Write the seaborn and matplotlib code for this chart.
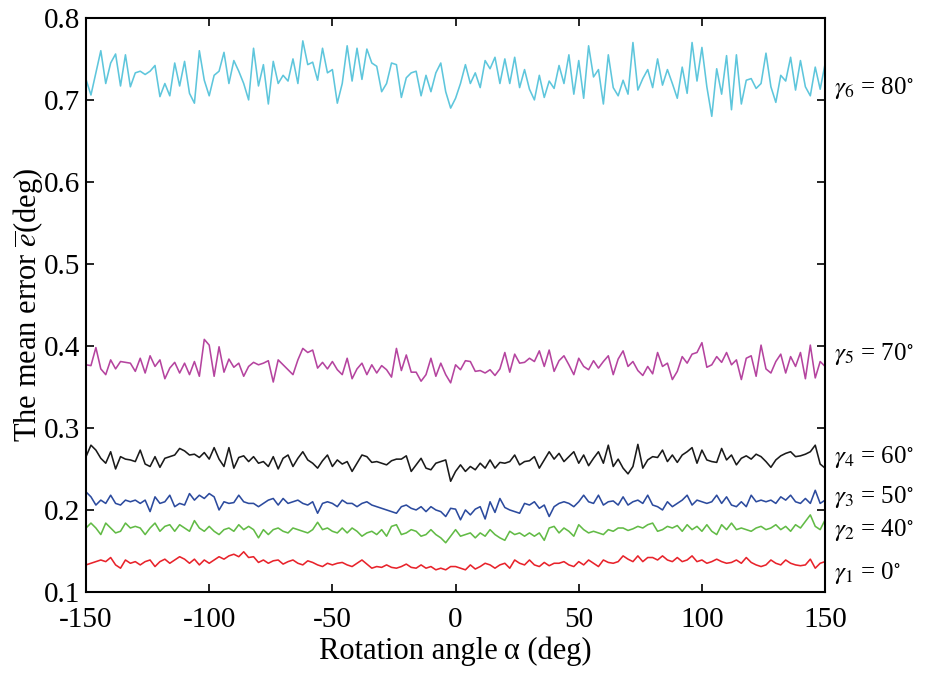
"""
Mean error vs rotation angle for six gamma settings
"""

import numpy as np
import pandas as pd
import matplotlib
matplotlib.use("Agg")
import matplotlib.pyplot as plt
import seaborn as sns

# Set style
sns.set_style("ticks")
plt.rcParams['font.family'] = ['Liberation Serif', 'DejaVu Serif']
plt.rcParams['mathtext.fontset'] = 'stix'
plt.rcParams['axes.unicode_minus'] = False
for key in ['text.color', 'axes.labelcolor', 'xtick.color', 'ytick.color', 'axes.edgecolor']:
    plt.rcParams[key] = 'black'

# ===== DATA (rotation angle -150..150 deg, step 2) =====
angles = np.arange(-150, 151, 2)

err_g6 = [0.725, 0.706, 0.733, 0.760, 0.720, 0.745, 0.756, 0.717, 0.755, 0.716,
          0.733, 0.735, 0.731, 0.735, 0.742, 0.704, 0.720, 0.705, 0.745, 0.717,
          0.747, 0.708, 0.696, 0.760, 0.724, 0.705, 0.730, 0.735, 0.758, 0.720,
          0.748, 0.735, 0.720, 0.700, 0.763, 0.717, 0.743, 0.695, 0.747, 0.720,
          0.730, 0.723, 0.750, 0.720, 0.772, 0.743, 0.746, 0.724, 0.763, 0.733,
          0.737, 0.696, 0.720, 0.766, 0.723, 0.763, 0.725, 0.762, 0.745, 0.741,
          0.710, 0.720, 0.745, 0.743, 0.703, 0.727, 0.733, 0.735, 0.705, 0.730,
          0.710, 0.733, 0.745, 0.710, 0.690,
          0.702, 0.720, 0.743, 0.720, 0.733, 0.715, 0.748, 0.738, 0.752, 0.720,
          0.750, 0.720, 0.752, 0.715, 0.737, 0.713, 0.700, 0.730, 0.703, 0.723,
          0.714, 0.742, 0.720, 0.755, 0.707, 0.748, 0.702, 0.766, 0.728, 0.737,
          0.695, 0.755, 0.715, 0.705, 0.724, 0.707, 0.770, 0.712, 0.726, 0.737,
          0.715, 0.750, 0.718, 0.737, 0.720, 0.702, 0.740, 0.708, 0.770, 0.723,
          0.764, 0.716, 0.680, 0.738, 0.707, 0.754, 0.688, 0.755, 0.695, 0.724,
          0.726, 0.714, 0.720, 0.757, 0.716, 0.697, 0.730, 0.723, 0.752, 0.712,
          0.748, 0.716, 0.705, 0.740, 0.713, 0.744]

err_g5 = [0.377, 0.376, 0.398, 0.372, 0.365, 0.383, 0.372, 0.381, 0.380, 0.379,
          0.369, 0.385, 0.367, 0.388, 0.375, 0.383, 0.360, 0.373, 0.380, 0.367,
          0.379, 0.365, 0.381, 0.363, 0.408, 0.401, 0.363, 0.399, 0.368, 0.384,
          0.374, 0.379, 0.363, 0.375, 0.380, 0.377, 0.379, 0.382, 0.356, 0.383,
          0.377, 0.371, 0.365, 0.383, 0.397, 0.392, 0.395, 0.373, 0.380, 0.372,
          0.381, 0.371, 0.365, 0.385, 0.360, 0.372, 0.379, 0.365, 0.377, 0.367,
          0.376, 0.371, 0.362, 0.397, 0.370, 0.389, 0.368, 0.368, 0.357, 0.365,
          0.385, 0.363, 0.379, 0.365, 0.355,
          0.377, 0.371, 0.382, 0.381, 0.369, 0.370, 0.367, 0.371, 0.364, 0.372,
          0.392, 0.368, 0.390, 0.379, 0.380, 0.385, 0.381, 0.394, 0.375, 0.395,
          0.369, 0.382, 0.388, 0.377, 0.365, 0.385, 0.375, 0.371, 0.382, 0.373,
          0.381, 0.388, 0.365, 0.384, 0.394, 0.375, 0.381, 0.370, 0.364, 0.375,
          0.366, 0.392, 0.375, 0.379, 0.359, 0.369, 0.387, 0.379, 0.390, 0.392,
          0.404, 0.374, 0.377, 0.387, 0.380, 0.392, 0.377, 0.383, 0.359, 0.385,
          0.388, 0.363, 0.401, 0.372, 0.367, 0.381, 0.390, 0.367, 0.387, 0.375,
          0.392, 0.360, 0.401, 0.361, 0.381, 0.375]

err_g4 = [0.265, 0.279, 0.273, 0.263, 0.257, 0.271, 0.250, 0.265, 0.262, 0.261,
          0.259, 0.273, 0.256, 0.253, 0.265, 0.252, 0.263, 0.265, 0.267, 0.275,
          0.272, 0.267, 0.268, 0.264, 0.270, 0.262, 0.276, 0.262, 0.253, 0.276,
          0.251, 0.264, 0.266, 0.259, 0.265, 0.257, 0.259, 0.253, 0.265, 0.250,
          0.263, 0.267, 0.253, 0.263, 0.271, 0.261, 0.257, 0.251, 0.260, 0.267,
          0.253, 0.261, 0.256, 0.259, 0.247, 0.257, 0.267, 0.265, 0.258, 0.259,
          0.257, 0.255, 0.260, 0.262, 0.262, 0.266, 0.247, 0.255, 0.263, 0.251,
          0.249, 0.257, 0.259, 0.261, 0.235,
          0.247, 0.255, 0.247, 0.253, 0.249, 0.257, 0.251, 0.261, 0.251, 0.258,
          0.257, 0.259, 0.267, 0.255, 0.259, 0.260, 0.265, 0.251, 0.261, 0.271,
          0.262, 0.269, 0.259, 0.265, 0.271, 0.257, 0.267, 0.254, 0.263, 0.271,
          0.257, 0.279, 0.253, 0.262, 0.251, 0.244, 0.253, 0.280, 0.251, 0.261,
          0.265, 0.264, 0.273, 0.259, 0.267, 0.258, 0.267, 0.271, 0.276, 0.257,
          0.273, 0.261, 0.259, 0.258, 0.275, 0.261, 0.267, 0.255, 0.263, 0.266,
          0.262, 0.268, 0.265, 0.259, 0.252, 0.261, 0.266, 0.269, 0.271, 0.265,
          0.266, 0.268, 0.271, 0.279, 0.256, 0.251]

err_g3 = [0.222, 0.216, 0.206, 0.212, 0.208, 0.218, 0.208, 0.206, 0.212, 0.210,
          0.212, 0.208, 0.212, 0.198, 0.216, 0.208, 0.210, 0.218, 0.204, 0.208,
          0.206, 0.220, 0.212, 0.218, 0.214, 0.220, 0.216, 0.200, 0.210, 0.208,
          0.209, 0.218, 0.210, 0.208, 0.208, 0.204, 0.208, 0.212, 0.214, 0.206,
          0.214, 0.208, 0.210, 0.212, 0.208, 0.206, 0.210, 0.196, 0.208, 0.210,
          0.208, 0.204, 0.212, 0.208, 0.208, 0.204, 0.208, 0.210, 0.206, 0.204,
          0.202, 0.200, 0.198, 0.196, 0.204, 0.206, 0.202, 0.200, 0.204, 0.198,
          0.204, 0.200, 0.198, 0.192, 0.202,
          0.201, 0.188, 0.200, 0.194, 0.201, 0.204, 0.189, 0.210, 0.197, 0.214,
          0.203, 0.200, 0.198, 0.196, 0.208, 0.206, 0.210, 0.202, 0.206, 0.192,
          0.204, 0.208, 0.210, 0.208, 0.204, 0.210, 0.218, 0.210, 0.208, 0.218,
          0.206, 0.210, 0.211, 0.206, 0.216, 0.206, 0.210, 0.212, 0.208, 0.218,
          0.206, 0.204, 0.200, 0.210, 0.204, 0.208, 0.212, 0.218, 0.206, 0.212,
          0.210, 0.208, 0.210, 0.218, 0.208, 0.216, 0.206, 0.204, 0.210, 0.204,
          0.218, 0.210, 0.212, 0.210, 0.212, 0.208, 0.216, 0.212, 0.218, 0.210,
          0.208, 0.214, 0.208, 0.224, 0.208, 0.212]

err_g2 = [0.178, 0.184, 0.178, 0.170, 0.184, 0.178, 0.172, 0.174, 0.184, 0.178,
          0.180, 0.178, 0.170, 0.178, 0.184, 0.174, 0.180, 0.182, 0.174, 0.182,
          0.178, 0.174, 0.187, 0.178, 0.174, 0.180, 0.174, 0.170, 0.176, 0.178,
          0.174, 0.182, 0.176, 0.180, 0.176, 0.166, 0.176, 0.170, 0.176, 0.178,
          0.174, 0.172, 0.178, 0.176, 0.174, 0.172, 0.176, 0.185, 0.176, 0.178,
          0.174, 0.172, 0.178, 0.172, 0.178, 0.174, 0.168, 0.172, 0.174, 0.170,
          0.176, 0.168, 0.180, 0.182, 0.170, 0.172, 0.176, 0.174, 0.168, 0.170,
          0.176, 0.170, 0.166, 0.160, 0.168,
          0.176, 0.168, 0.170, 0.172, 0.166, 0.172, 0.168, 0.176, 0.170, 0.166,
          0.163, 0.174, 0.170, 0.172, 0.168, 0.172, 0.168, 0.172, 0.163, 0.178,
          0.180, 0.172, 0.178, 0.174, 0.168, 0.182, 0.176, 0.172, 0.174, 0.172,
          0.170, 0.176, 0.174, 0.178, 0.178, 0.175, 0.177, 0.180, 0.178, 0.182,
          0.184, 0.174, 0.176, 0.180, 0.178, 0.181, 0.174, 0.182, 0.176, 0.180,
          0.174, 0.182, 0.174, 0.170, 0.182, 0.176, 0.184, 0.176, 0.178, 0.176,
          0.174, 0.178, 0.180, 0.176, 0.178, 0.182, 0.176, 0.180, 0.174, 0.182,
          0.178, 0.186, 0.194, 0.180, 0.176, 0.188]

err_g1 = [0.133, 0.135, 0.137, 0.139, 0.137, 0.142, 0.133, 0.129, 0.139, 0.135,
          0.137, 0.133, 0.137, 0.139, 0.131, 0.137, 0.140, 0.135, 0.139, 0.143,
          0.140, 0.135, 0.140, 0.133, 0.139, 0.135, 0.139, 0.143, 0.140, 0.144,
          0.146, 0.143, 0.149, 0.142, 0.143, 0.136, 0.139, 0.135, 0.138, 0.139,
          0.134, 0.137, 0.139, 0.135, 0.133, 0.138, 0.136, 0.133, 0.131, 0.135,
          0.133, 0.135, 0.136, 0.133, 0.131, 0.135, 0.139, 0.134, 0.129, 0.131,
          0.130, 0.133, 0.130, 0.129, 0.131, 0.134, 0.130, 0.129, 0.133, 0.129,
          0.131, 0.127, 0.129, 0.127, 0.131,
          0.131, 0.129, 0.127, 0.133, 0.128, 0.131, 0.135, 0.133, 0.129, 0.133,
          0.135, 0.129, 0.139, 0.135, 0.133, 0.139, 0.133, 0.131, 0.136, 0.132,
          0.135, 0.135, 0.137, 0.133, 0.131, 0.137, 0.133, 0.139, 0.135, 0.131,
          0.139, 0.136, 0.135, 0.137, 0.144, 0.140, 0.137, 0.144, 0.137, 0.142,
          0.142, 0.139, 0.144, 0.139, 0.137, 0.142, 0.137, 0.139, 0.144, 0.137,
          0.139, 0.135, 0.137, 0.140, 0.137, 0.135, 0.136, 0.139, 0.135, 0.142,
          0.136, 0.133, 0.131, 0.133, 0.139, 0.135, 0.133, 0.139, 0.135, 0.133,
          0.132, 0.133, 0.140, 0.129, 0.135, 0.137]

series_names = ['g1', 'g2', 'g3', 'g4', 'g5', 'g6']
series_vals = [err_g1, err_g2, err_g3, err_g4, err_g5, err_g6]
series_labels = [r'$\gamma_1$ = 0$^{\circ}$', r'$\gamma_2$ = 40$^{\circ}$',
                 r'$\gamma_3$ = 50$^{\circ}$', r'$\gamma_4$ = 60$^{\circ}$',
                 r'$\gamma_5$ = 70$^{\circ}$', r'$\gamma_6$ = 80$^{\circ}$']
label_y = [0.123, 0.176, 0.216, 0.264, 0.390, 0.715]
colors = {'g1': '#e8232b', 'g2': '#62bb46', 'g3': '#2c4b9e',
          'g4': '#1a1a1a', 'g5': '#b5449f', 'g6': '#5ec6dc'}

frames = []
for name, vals in zip(series_names, series_vals):
    x = np.linspace(-150, 150, len(vals))
    frames.append(pd.DataFrame({'angle': x, 'error': vals, 'gamma': name}))
df = pd.concat(frames, ignore_index=True)

fig = plt.figure(figsize=(9.25, 6.73), dpi=100)
ax = fig.add_axes([0.093, 0.1204, 0.799, 0.853])

sns.lineplot(data=df, x='angle', y='error', hue='gamma', palette=colors,
             estimator=None, legend=False, linewidth=1.15, ax=ax)

ax.set_xlim(-150, 150)
ax.set_ylim(0.1, 0.8)
ax.set_xticks([-150, -100, -50, 0, 50, 100, 150])
ax.set_yticks([0.1, 0.2, 0.3, 0.4, 0.5, 0.6, 0.7, 0.8])
ax.tick_params(direction='in', top=True, right=True, length=6, width=1.2,
               labelsize=21)
ax.tick_params(axis='x', pad=11)
ax.tick_params(axis='y', pad=4)
for sp in ax.spines.values():
    sp.set_linewidth(1.5)
    sp.set_color('black')

ax.set_xlabel('Rotation angle\u2009α (deg)', fontsize=22)
ax.set_ylabel(r'The mean error $\overline{e}$(deg)', fontsize=22)
ax.xaxis.set_label_coords(0.5, -0.078)
ax.yaxis.set_label_coords(-0.056, 0.5)

# curve labels outside the right axis
for lab, yv in zip(series_labels, label_y):
    ax.text(1.012, yv, lab, transform=ax.get_yaxis_transform(),
            fontsize=18, va='center', ha='left')

plt.savefig('out.png', dpi=100)
